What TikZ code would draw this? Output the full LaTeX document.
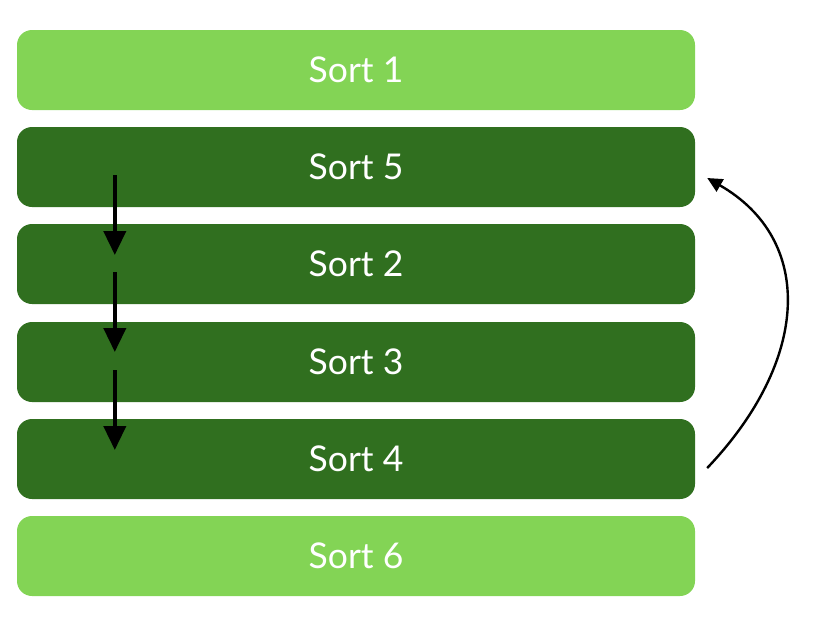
\documentclass[tikz,border=0pt]{standalone}
\usepackage{fontspec}
\setmainfont{Lato}
\usetikzlibrary{arrows.meta}
\definecolor{lightbar}{HTML}{83D455}
\definecolor{darkbar}{HTML}{306F1F}
\begin{document}
\begin{tikzpicture}[x=1pt,y=-1pt,
  bar/.style={rectangle,rounded corners=15pt,minimum width=678pt,minimum height=80pt,
    text=white,font=\fontsize{35.5}{40}\selectfont,inner sep=0pt},
  lightsort/.style={bar,fill=lightbar},
  darksort/.style={bar,fill=darkbar},
  downarrow/.style={line width=4pt,-{Triangle[width=22pt,length=24pt]}},
  backarrow/.style={line width=2.4pt,-{Triangle[width=14pt,length=15pt]}}]
\useasboundingbox (0,0) rectangle (824,622);
\node[lightsort] (s1) at (356,70) {Sort 1};
\node[darksort] (s5) at (356,167) {Sort 5};
\node[darksort] (s2) at (356,264) {Sort 2};
\node[darksort] (s3) at (356,362) {Sort 3};
\node[darksort] (s4) at (356,459) {Sort 4};
\node[lightsort] (s6) at (356,556) {Sort 6};
\draw[downarrow] ([xshift=98pt,yshift=-8pt]s5.west) -- ([xshift=98pt,yshift=9pt]s2.west);
\draw[downarrow] ([xshift=98pt,yshift=-8pt]s2.west) -- ([xshift=98pt,yshift=10pt]s3.west);
\draw[downarrow] ([xshift=98pt,yshift=-8pt]s3.west) -- ([xshift=98pt,yshift=9pt]s4.west);
\draw[backarrow] ([xshift=12pt,yshift=-9pt]s4.east) .. controls (810,360) and (815,240) .. ([xshift=12pt,yshift=-11pt]s5.east);
\end{tikzpicture}
\end{document}
